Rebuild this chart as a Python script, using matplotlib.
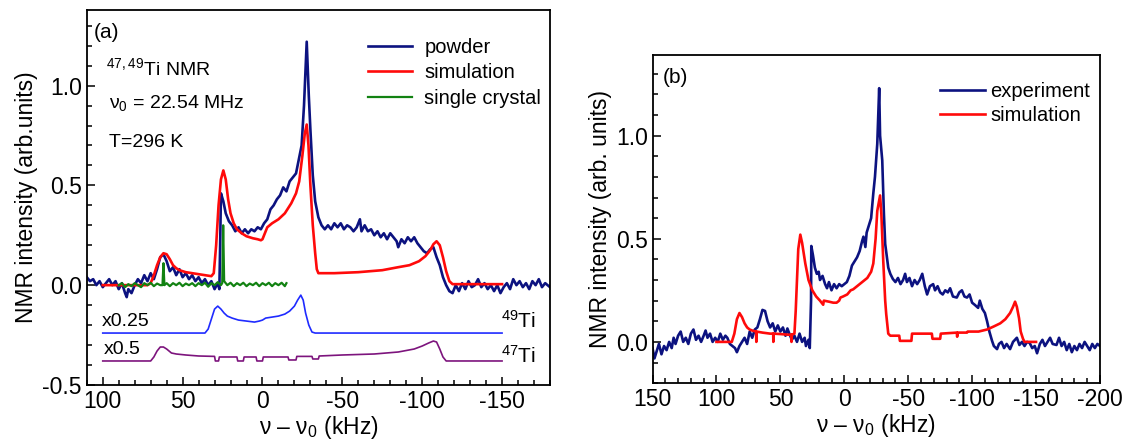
import matplotlib
matplotlib.use("Agg")
import matplotlib.pyplot as plt
from matplotlib.ticker import MultipleLocator

plt.rcParams['font.family'] = ['Liberation Sans', 'DejaVu Sans']
plt.rcParams['mathtext.fontset'] = 'custom'
plt.rcParams['mathtext.rm'] = 'Liberation Sans'
plt.rcParams['mathtext.default'] = 'regular'
plt.rcParams['axes.unicode_minus'] = False

# ---------------- panel (a) ----------------
powder_x = [110, 108, 106, 104, 102, 100, 98, 96, 94, 92, 90, 88, 86, 85, 84, 82, 80, 78, 76, 74,
            72, 70, 68, 66, 64, 62, 60, 58, 56, 54, 52, 50, 48, 46, 44, 42, 40, 38, 36, 34,
            32, 30, 28, 27, 26.5, 26, 24.5, 23, 21, 19, 17, 15, 13, 11, 9, 7, 5, 3, 1, -1,
            -3, -5, -7, -9, -11, -13, -15, -17, -19, -21, -23, -24.5, -26, -27.7, -29, -30, -31.5, -33, -35, -37,
            -39, -41, -43, -45, -47, -49, -51, -53, -55, -57, -59, -61, -62, -64, -66, -68, -70, -72, -74, -76,
            -78, -80, -82, -84, -85, -87, -89, -91, -93, -95, -97, -99, -101, -103, -105, -107, -109, -111, -113, -115,
            -117, -119, -121, -123, -125, -127, -129, -131, -133, -135, -137, -139, -141, -143, -145, -147, -149, -151, -153, -155,
            -157, -159, -161, -163, -165, -167, -169, -171, -173, -175, -177, -180]
powder_y = [0.04, 0.02, 0.03, 0.0, 0.02, -0.01, 0.01, 0.03, 0.0, 0.02, -0.02, 0.01, -0.04, -0.06, -0.02, -0.04, 0.0, 0.03, 0.01, 0.05,
            0.02, 0.06, 0.03, 0.08, 0.14, 0.155, 0.12, 0.07, 0.09, 0.05, 0.08, 0.04, 0.06, 0.03, 0.05, 0.02, 0.04, 0.01, 0.03, 0.0,
            0.02, -0.02, 0.01, -0.02, 0.2, 0.46, 0.42, 0.36, 0.32, 0.3, 0.27, 0.29, 0.26, 0.28, 0.26, 0.28, 0.27, 0.29, 0.28, 0.31,
            0.33, 0.38, 0.40, 0.43, 0.45, 0.49, 0.47, 0.52, 0.54, 0.56, 0.64, 0.7, 0.9, 1.22, 0.95, 0.78, 0.55, 0.42, 0.34, 0.30,
            0.28, 0.30, 0.28, 0.31, 0.29, 0.31, 0.28, 0.30, 0.29, 0.27, 0.29, 0.33, 0.27, 0.30, 0.27, 0.28, 0.25, 0.27, 0.24, 0.26,
            0.23, 0.26, 0.24, 0.22, 0.19, 0.23, 0.21, 0.24, 0.22, 0.24, 0.21, 0.19, 0.17, 0.16, 0.18, 0.19, 0.14, 0.1, 0.04, 0.0,
            -0.03, -0.04, 0.0, -0.03, 0.01, -0.02, 0.02, -0.01, 0.0, 0.03, -0.01, 0.01, -0.02, 0.0, -0.03, 0.0, -0.04, -0.01, 0.01, -0.02,
            0.03, 0.0, 0.02, -0.01, 0.01, -0.02, 0.02, 0.0, 0.03, -0.01, 0.01, -0.01]

sim_a_x = [100, 72, 70, 68, 66, 64, 62, 60, 58, 56, 54, 52, 48, 44, 40, 36, 32, 30.5, 29, 27.5,
           26, 24.5, 23, 21.5, 20, 18, 16, 13, 10, 6, 3, 1, 0, -1.5, -3, -6, -10, -14, -18, -21,
           -23, -25, -26.5, -27.7, -28.8, -30, -31.5, -33, -34, -35, -45, -60, -75, -85, -92, -98, -102, -105, -107, -109,
           -111, -113, -115, -117, -119, -150]
sim_a_y = [0.0, 0.0, 0.01, 0.05, 0.1, 0.14, 0.16, 0.155, 0.13, 0.1, 0.085, 0.075, 0.065, 0.06, 0.055, 0.05, 0.045, 0.06, 0.2, 0.4,
           0.53, 0.575, 0.53, 0.43, 0.36, 0.31, 0.28, 0.26, 0.245, 0.235, 0.23, 0.225, 0.23, 0.26, 0.29, 0.31, 0.33, 0.36, 0.41, 0.46,
           0.52, 0.65, 0.76, 0.805, 0.7, 0.5, 0.3, 0.16, 0.08, 0.06, 0.06, 0.065, 0.075, 0.09, 0.1, 0.12, 0.145, 0.175, 0.205, 0.22,
           0.2, 0.14, 0.07, 0.02, 0.005, 0.005]

crystal_x = [90, 88, 86, 84, 82, 80, 78, 76, 74, 72, 70, 68, 66, 64, 62.6, 62, 61.4, 60, 58, 56,
             54, 52, 50, 48, 46, 44, 42, 40, 38, 36, 34, 32, 30, 28, 26, 25.2, 24.6, 24.0, 23, 22,
             20, 18, 16, 14, 12, 10, 8, 6, 4, 2, 0, -2, -4, -6, -8, -10, -12, -14, -15]
crystal_y = [0.0, 0.01, -0.01, 0.005, -0.005, 0.01, 0.0, -0.01, 0.01, 0.0, 0.012, -0.005, 0.008, 0.0, 0.0, 0.11, 0.0, 0.01, -0.005, 0.01,
             0.0, 0.012, -0.005, 0.008, 0.0, 0.01, -0.005, 0.01, 0.0, 0.012, -0.008, 0.01, 0.0, 0.015, 0.0, 0.01, 0.3, 0.02, 0.01, 0.0,
             0.012, -0.005, 0.01, 0.0, 0.012, -0.005, 0.008, 0.0, 0.012, -0.005, 0.01, 0.0, 0.012, -0.005, 0.01, 0.0, 0.012, -0.005, 0.01]

ti49_x = [100, 36, 34, 32, 30, 28, 26, 24, 22, 19, 15, 10, 5, 2, 0, -2, -6, -10, -14, -17,
          -20, -22, -24, -25.5, -27, -29, -31, -33, -150]
ti49_y = [-0.24, -0.24, -0.22, -0.17, -0.12, -0.105, -0.12, -0.14, -0.155, -0.165, -0.175, -0.18, -0.185, -0.18, -0.175, -0.165, -0.16, -0.155, -0.145, -0.13,
          -0.105, -0.075, -0.05, -0.075, -0.14, -0.2, -0.235, -0.24, -0.24]

ti47_x = [100, 70, 68, 66, 64, 62, 60, 57, 54, 48, 40, 30, 29.5, 27.5, 27, 16, 15.5, 12, 11.5, 4,
          3.5, 0, -0.5, -16, -16.5, -21, -21.5, -31, -31.5, -35, -35.5, -50, -70, -85, -95, -100, -104, -107, -109, -111,
          -113, -115, -150]
ti47_y = [-0.38, -0.38, -0.36, -0.33, -0.31, -0.31, -0.32, -0.34, -0.345, -0.35, -0.355, -0.357, -0.38, -0.38, -0.36, -0.36, -0.38, -0.38, -0.36, -0.36,
          -0.38, -0.38, -0.36, -0.36, -0.375, -0.375, -0.357, -0.357, -0.37, -0.37, -0.355, -0.35, -0.345, -0.335, -0.32, -0.305, -0.29, -0.28, -0.285, -0.32,
          -0.36, -0.38, -0.38]

# ---------------- panel (b) ----------------
exp_x = [150, 148.5, 147, 145, 143, 141, 139, 137, 135, 133.5, 132, 130, 128, 126, 124, 122, 120, 118, 116, 114,
         112, 110, 108.5, 107, 105, 103, 101, 99, 97, 95, 93, 91.5, 89.5, 87.5, 85.5, 84, 82, 80, 78, 76,
         74, 72, 70, 68, 66, 64, 62, 60, 58, 56, 54, 52, 50, 48, 46, 44.5, 43, 41, 39, 37,
         35, 33, 31, 30, 28, 27, 26, 25.8, 24.5, 23, 21.5, 20, 19, 17, 15, 13.5, 12, 10, 8, 6,
         4, 2, 0, -2, -4, -6, -8, -10, -12, -14, -15, -16.5, -17.5, -19, -21, -22.7, -24, -25.8, -27.3, -28,
         -29.7, -31, -32, -34.4, -36, -38, -40, -42, -44, -46, -47.6, -49, -51, -53, -55, -57, -59, -61, -63, -64.8,
         -67, -69.5, -71, -73, -75, -77, -79, -81, -82.8, -85, -88, -90, -92, -94, -96, -98, -100, -102, -104.7, -106,
         -108, -110, -111.7, -113.5, -115.6, -117, -119.5, -121, -123, -125, -127, -129.7, -132, -135, -137, -139, -141, -143, -145, -147,
         -149, -150.8, -153, -155, -157, -159, -161, -163, -166, -168, -170, -172, -174, -176, -178, -180, -182, -184, -186, -188,
         -190, -192, -194, -196, -198, -200]
exp_y = [-0.03, -0.08, -0.05, -0.01, -0.06, -0.02, -0.04, 0.0, -0.03, 0.02, -0.01, 0.03, 0.05, 0.0, 0.02, -0.01, 0.04, 0.06, 0.01, 0.03,
         0.0, 0.03, 0.055, 0.02, 0.04, 0.0, 0.02, 0.0, 0.04, 0.01, 0.03, 0.02, -0.01, -0.02, -0.03, -0.05, -0.02, 0.0, 0.02, -0.01,
         0.05, 0.02, 0.06, 0.07, 0.11, 0.155, 0.15, 0.1, 0.07, 0.09, 0.05, 0.08, 0.05, 0.07, 0.03, 0.065, 0.04, 0.01, 0.03, 0.0,
         0.04, 0.0, 0.02, -0.02, 0.01, -0.03, 0.2, 0.465, 0.42, 0.36, 0.33, 0.34, 0.3, 0.32, 0.28, 0.26, 0.29, 0.25, 0.28, 0.26,
         0.28, 0.27, 0.28, 0.29, 0.32, 0.37, 0.39, 0.41, 0.44, 0.49, 0.51, 0.46, 0.53, 0.56, 0.6, 0.72, 0.8, 0.96, 1.23, 1.0,
         0.88, 0.62, 0.475, 0.36, 0.33, 0.305, 0.29, 0.31, 0.28, 0.3, 0.33, 0.29, 0.31, 0.27, 0.3, 0.28, 0.3, 0.33, 0.27, 0.23,
         0.27, 0.28, 0.25, 0.27, 0.24, 0.23, 0.25, 0.24, 0.26, 0.22, 0.215, 0.24, 0.25, 0.22, 0.215, 0.23, 0.19, 0.18, 0.165, 0.2,
         0.16, 0.14, 0.1, 0.05, 0.005, -0.02, -0.035, -0.01, 0.0, -0.03, -0.01, -0.035, 0.0, 0.02, -0.015, 0.0, -0.02, 0.0, -0.005, -0.03,
         -0.02, -0.055, -0.01, 0.01, -0.02, 0.0, 0.02, -0.01, -0.015, 0.02, -0.02, 0.0, -0.04, -0.01, -0.05, -0.02, -0.04, -0.01, -0.03, 0.0,
         -0.02, -0.04, -0.01, -0.03, -0.01, -0.02]

sim_b_x = [100, 88, 86, 84, 82, 80, 78, 76, 74, 72, 69, 68.8, 68.6, 64, 58, 55.6, 55.5, 55.4, 50, 44,
           41.5, 41.3, 41.0, 39, 38, 37, 36, 34.4, 33, 31.5, 30.5, 28, 25, 22, 19, 16.5, 16, 12, 8.6, 6,
           4, 3, 1, -2.3, -5, -7, -10, -14, -18, -21, -22.7, -24.5, -25.8, -28, -29, -30.5, -32, -32.8, -34.4, -36,
           -43, -43.5, -52.5, -53, -68.5, -69, -75, -75.5, -88, -88.3, -88.7, -96, -96.5, -105, -111.7, -117, -122, -126, -129.7, -132,
           -133.6, -135, -136.7, -138, -139.8, -141, -150]
sim_b_y = [0.0, 0.0, 0.04, 0.11, 0.14, 0.12, 0.09, 0.07, 0.06, 0.055, 0.05, 0.0, 0.05, 0.045, 0.04, 0.04, 0.0, 0.04, 0.038, 0.035,
           0.035, 0.0, 0.035, 0.04, 0.15, 0.3, 0.45, 0.52, 0.48, 0.42, 0.38, 0.3, 0.25, 0.22, 0.2, 0.18, 0.2, 0.195, 0.19, 0.19,
           0.2, 0.215, 0.22, 0.23, 0.25, 0.255, 0.27, 0.29, 0.31, 0.34, 0.38, 0.5, 0.635, 0.71, 0.62, 0.39, 0.2, 0.135, 0.04, 0.03,
           0.03, 0.005, 0.005, 0.04, 0.04, 0.015, 0.015, 0.04, 0.045, 0.025, 0.045, 0.045, 0.05, 0.05, 0.06, 0.075, 0.09, 0.11, 0.14, 0.17,
           0.195, 0.17, 0.115, 0.05, 0.015, 0.0, 0.0]

navy = '#0c1280'
red = '#ff0a0a'

fig = plt.figure(figsize=(11.27, 4.45), dpi=100)
ax1 = fig.add_axes([0.077, 0.135, 0.411, 0.843])
ax2 = fig.add_axes([0.579, 0.139, 0.397, 0.737])

ax1.plot(powder_x, powder_y, color=navy, lw=1.9, label='powder')
ax1.plot(sim_a_x, sim_a_y, color=red, lw=1.9, label='simulation')
ax1.plot(crystal_x, crystal_y, color='#128212', lw=1.6, label='single crystal')
ax1.plot(ti49_x, ti49_y, color='#1f2bff', lw=1.2)
ax1.plot(ti47_x, ti47_y, color='#7d147d', lw=1.2)

ax1.set_xlim(110, -180)
ax1.set_ylim(-0.5, 1.38)
ax1.set_xticks([100, 50, 0, -50, -100, -150])
ax1.set_yticks([-0.5, 0.0, 0.5, 1.0])
ax1.yaxis.set_major_formatter(plt.FormatStrFormatter('%.1f'))
ax1.xaxis.set_minor_locator(MultipleLocator(10))
ax1.yaxis.set_minor_locator(MultipleLocator(0.1))
ax1.set_xlabel('ν – ν$_0$ (kHz)', fontsize=16.5, labelpad=1)
ax1.set_ylabel('NMR intensity (arb.units)', fontsize=16.5, labelpad=3)

ax1.text(105.7, 1.265, '(a)', fontsize=15, va='center')
ax1.text(98, 1.055, '$^{47,49}$Ti NMR', fontsize=14, va='baseline')
ax1.text(96, 0.89, 'ν$_0$ = 22.54 MHz', fontsize=14, va='baseline')
ax1.text(96, 0.69, 'T=296 K', fontsize=14, va='baseline')
ax1.text(100.6, -0.205, 'x0.25', fontsize=14, va='baseline')
ax1.text(99.4, -0.345, 'x0.5', fontsize=14, va='baseline')
ax1.text(-171, -0.215, '$^{49}$Ti', fontsize=15, va='baseline', ha='right')
ax1.text(-171, -0.387, '$^{47}$Ti', fontsize=15, va='baseline', ha='right')

ax1.legend(loc='upper left', bbox_to_anchor=(0.607, 0.925), frameon=False, fontsize=14.5,
           handlelength=2.2, handletextpad=0.6, labelspacing=0.32, borderaxespad=0, borderpad=0)

ax2.plot(exp_x, exp_y, color=navy, lw=1.9, label='experiment')
ax2.plot(sim_b_x, sim_b_y, color=red, lw=1.9, label='simulation')
ax2.set_xlim(150, -200)
ax2.set_ylim(-0.2, 1.39)
ax2.set_xticks([150, 100, 50, 0, -50, -100, -150, -200])
ax2.set_yticks([0.0, 0.5, 1.0])
ax2.yaxis.set_major_formatter(plt.FormatStrFormatter('%.1f'))
ax2.xaxis.set_minor_locator(MultipleLocator(10))
ax2.yaxis.set_minor_locator(MultipleLocator(0.1))
ax2.set_xlabel('ν – ν$_0$ (kHz)', fontsize=16.5, labelpad=1)
ax2.set_ylabel('NMR intensity (arb. units)', fontsize=16.5, labelpad=3)
ax2.text(142, 1.28, '(b)', fontsize=15, va='center')
ax2.legend(loc='upper left', bbox_to_anchor=(0.643, 0.917), frameon=False, fontsize=14.5,
           handlelength=2.2, handletextpad=0.3, labelspacing=0.25, borderaxespad=0, borderpad=0)

for ax in (ax1, ax2):
    for s in ax.spines.values():
        s.set_linewidth(1.3)
    ax.tick_params(which='both', direction='in', top=False, right=False, labelsize=16.5, width=1.1)
    ax.tick_params(which='major', length=6)
    ax.tick_params(which='minor', length=3.5)

fig.savefig('out.png', dpi=100)
